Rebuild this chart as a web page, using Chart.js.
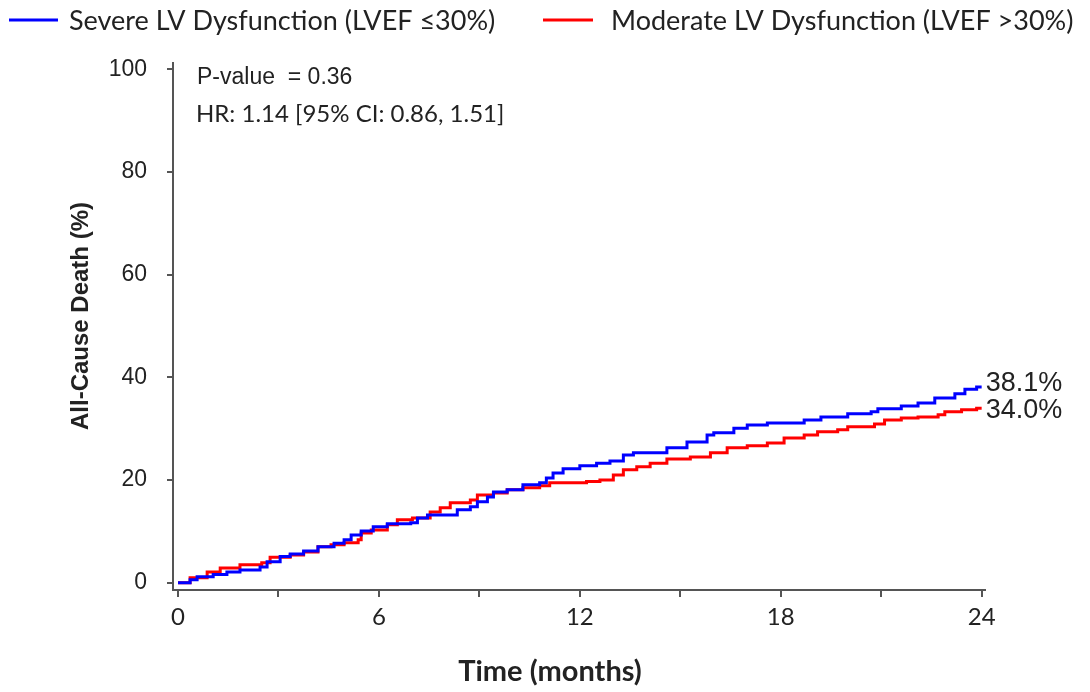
<!DOCTYPE html>
<html>
<head>
<meta charset="utf-8">
<script src="https://cdn.jsdelivr.net/npm/chart.js@4.4.1/dist/chart.umd.min.js"></script>
<style>
  html, body { margin: 0; padding: 0; background: #fff; }
  #wrap { width: 1090px; height: 692px; position: relative; }
</style>
</head>
<body>
<div id="wrap"><canvas id="km" width="1090" height="692"></canvas></div>
<script>
// datos (meses, % acumulado)
const severoT = [0, 0.36, 0.57, 1.05, 1.46, 1.85, 2.45, 2.66, 3.05, 3.35, 3.75, 4.18, 4.66, 4.96, 5.17, 5.47, 5.83, 6.25, 6.95, 7.15, 7.45, 8.34, 8.73, 8.94, 9.24, 9.42, 9.83, 10.3, 10.8, 11.0, 11.2, 11.5, 12.0, 12.5, 12.9, 13.3, 13.6, 14.6, 15.2, 15.8, 16.0, 16.6, 17.0, 17.6, 18.7, 19.2, 20.0, 20.7, 20.9, 21.6, 22.1, 22.6, 23.2, 23.5, 23.85, 24.0];
const severoV = [0, 0.6, 1.2, 1.6, 2.1, 2.5, 3.1, 4.1, 5.1, 5.6, 6.2, 7.0, 7.7, 8.4, 9.3, 10.1, 10.9, 11.5, 11.7, 12.6, 13.2, 14.2, 14.8, 15.8, 16.7, 17.7, 18.1, 19.1, 19.5, 20.4, 21.4, 22.2, 22.8, 23.3, 23.7, 24.9, 25.3, 26.3, 27.4, 28.8, 29.2, 30.1, 30.7, 31.1, 31.7, 32.3, 32.9, 33.3, 33.9, 34.4, 35.0, 36.0, 36.8, 37.7, 38.1, 38.1];
const moderadoT = [0, 0.36, 0.87, 1.26, 1.85, 2.5, 2.75, 3.35, 3.75, 4.18, 4.57, 4.96, 5.38, 5.47, 5.77, 6.25, 6.55, 7.0, 7.53, 7.83, 8.13, 8.73, 8.94, 9.42, 9.83, 10.3, 10.8, 11.1, 12.2, 12.6, 13.0, 13.3, 13.7, 14.1, 14.6, 15.3, 15.9, 16.4, 17.0, 17.6, 18.1, 18.7, 19.1, 19.7, 20.0, 20.8, 21.1, 21.6, 22.1, 22.7, 22.9, 23.4, 23.85, 24.0];
const moderadoV = [0, 1.0, 2.1, 2.9, 3.5, 3.9, 5.0, 5.4, 6.0, 7.0, 7.4, 7.8, 8.4, 9.7, 10.3, 11.3, 12.3, 12.6, 13.8, 14.6, 15.6, 16.1, 17.1, 17.5, 18.1, 18.5, 18.9, 19.5, 19.7, 20.0, 21.0, 22.0, 22.6, 23.3, 24.1, 24.5, 25.3, 26.3, 26.7, 27.2, 28.2, 28.8, 29.4, 29.8, 30.4, 30.9, 31.7, 32.1, 32.3, 32.7, 33.3, 33.7, 34.0, 34.0];

const xTicks = [0, 3, 6, 9, 12, 15, 18, 21, 24];
const yTicks = [0, 20, 40, 60, 80, 100];
const seriesNames = ['Severe LV Dysfunction (LVEF \u226430%)', 'Moderate LV Dysfunction (LVEF >30%)'];
const finales = ['38.1%', '34.0%'];
const notas = ['P-value  = 0.36', 'HR: 1.14 [95% CI: 0.86, 1.51]'];

const AZUL = '#0000ff';
const ROJO = '#ff0000';
const EJE = '#555555';
const ARIAL = '"Liberation Sans", Arial, sans-serif';
const CALIBRI = 'Lato, "Open Sans", sans-serif';

const puntos = (t, v) => t.map((x, i) => ({ x: x, y: v[i] }));

// leyenda, anotaciones y titulos de ejes
const extras = {
  id: 'extras',
  afterDraw(chart) {
    const ctx = chart.ctx;
    const xs = chart.scales.x, ys = chart.scales.y;
    ctx.save();

    // leyenda
    ctx.lineWidth = 3;
    ctx.strokeStyle = AZUL;
    ctx.beginPath(); ctx.moveTo(9, 20); ctx.lineTo(58, 20); ctx.stroke();
    ctx.strokeStyle = ROJO;
    ctx.beginPath(); ctx.moveTo(543, 20); ctx.lineTo(593, 20); ctx.stroke();
    ctx.fillStyle = '#222';
    ctx.font = '27px ' + CALIBRI;
    ctx.textBaseline = 'middle';
    ctx.textAlign = 'left';
    ctx.fillText(seriesNames[0], 69, 21);
    ctx.fillText(seriesNames[1], 611, 21);

    // p-valor y HR
    ctx.font = '23px ' + ARIAL;
    ctx.fillText(notas[0], 197, 78);
    ctx.font = '24px ' + CALIBRI;
    ctx.fillText(notas[1], 196, 114);

    // valores finales
    ctx.font = '27px ' + ARIAL;
    const xf = xs.getPixelForValue(24) + 4;
    ctx.fillText(finales[0], xf, ys.getPixelForValue(severoV[severoV.length - 1]) - 4);
    ctx.fillText(finales[1], xf, ys.getPixelForValue(moderadoV[moderadoV.length - 1]) + 2);

    // titulo eje x
    ctx.font = 'bold 29px ' + CALIBRI;
    ctx.textAlign = 'center';
    ctx.fillText('Time (months)', 550, 672);

    // titulo eje y
    ctx.translate(81, 316);
    ctx.rotate(-Math.PI / 2);
    ctx.font = 'bold 24px ' + ARIAL;
    ctx.fillText('All-Cause Death (%)', 0, 0);
    ctx.restore();
  }
};

new Chart(document.getElementById('km'), {
  type: 'line',
  data: {
    datasets: [
      {
        label: seriesNames[0],
        data: puntos(severoT, severoV),
        borderColor: AZUL,
        borderWidth: 3,
        stepped: true,
        pointRadius: 0,
        fill: false
      },
      {
        label: seriesNames[1],
        data: puntos(moderadoT, moderadoV),
        borderColor: ROJO,
        borderWidth: 3,
        stepped: true,
        pointRadius: 0,
        fill: false
      }
    ]
  },
  options: {
    responsive: false,
    animation: false,
    layout: { padding: { top: 63, right: 105, left: 0, bottom: 0 } },
    plugins: {
      legend: { display: false },
      tooltip: { enabled: false }
    },
    scales: {
      x: {
        type: 'linear',
        min: -0.15,
        max: 24.1,
        afterBuildTicks: s => { s.ticks = xTicks.map(v => ({ value: v })); },
        afterFit: s => { s.height = 102; },
        border: { display: true, color: EJE, width: 2 },
        grid: { display: true, drawOnChartArea: false, drawTicks: true, tickLength: 7, color: EJE, lineWidth: 2 },
        ticks: {
          autoSkip: false,
          maxRotation: 0,
          padding: 6,
          color: '#222',
          font: { family: CALIBRI, size: 24 },
          callback: v => (v % 6 === 0 ? String(v) : '')
        }
      },
      y: {
        type: 'linear',
        min: -1.4,
        max: 101.2,
        afterBuildTicks: s => { s.ticks = yTicks.map(v => ({ value: v })); },
        afterFit: s => { s.width = 173; },
        border: { display: true, color: EJE, width: 2 },
        grid: { display: true, drawOnChartArea: false, drawTicks: true, tickLength: 6, color: EJE, lineWidth: 2 },
        ticks: {
          padding: 20,
          color: '#222',
          font: { family: ARIAL, size: 23 }
        }
      }
    }
  },
  plugins: [extras]
});
</script>
</body>
</html>
